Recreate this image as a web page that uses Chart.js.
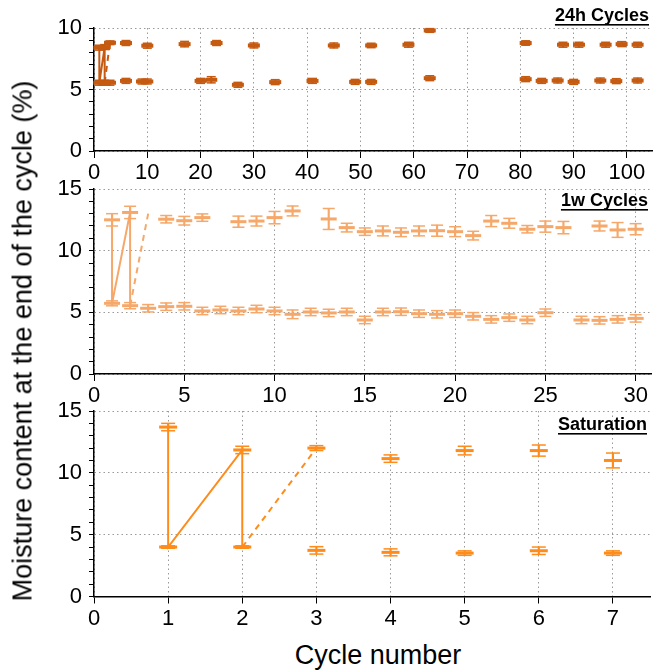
<!DOCTYPE html>
<html>
<head>
<meta charset="utf-8">
<script src="https://cdn.jsdelivr.net/npm/chart.js@4.4.0/dist/chart.umd.min.js"></script>
<style>
  body { margin: 0; background: #fff; width: 662px; height: 672px; overflow: hidden; position: relative;
         font-family: 'Liberation Sans', Arial, sans-serif; }
  canvas { position: absolute; left: 0; }
  #ytitle { position: absolute; left: 23px; top: 341px; transform: translate(-50%, -50%) rotate(-90deg);
            white-space: nowrap; font-size: 27px; color: #000; }
  #xtitle { position: absolute; left: 378px; top: 655px; transform: translate(-50%, -50%);
            white-space: nowrap; font-size: 27px; color: #000; }
</style>
</head>
<body>
<canvas id="c1" width="662" height="188" style="top:0px"></canvas>
<canvas id="c2" width="662" height="245" style="top:165px"></canvas>
<canvas id="c3" width="662" height="250" style="top:387px"></canvas>
<div id="ytitle">Moisture content at the end of the cycle (%)</div>
<div id="xtitle">Cycle number</div>
<script>
// --- 24h cycles ---
const dayWetCycle = [1, 2, 3, 6, 10, 17, 23, 30, 45, 52, 59, 63, 81, 88, 91, 96, 99, 102];
const dayWetMean  = [8.4, 8.45, 8.8, 8.78, 8.56, 8.69, 8.78, 8.58, 8.58, 8.58, 8.64, 9.8, 8.78, 8.64, 8.64, 8.64, 8.69, 8.64];
const dayWetErr   = [0.2, 0.2, 0.15, 0.2, 0.2, 0.22, 0.2, 0.2, 0.2, 0.18, 0.2, 0.15, 0.18, 0.2, 0.2, 0.2, 0.2, 0.2];
const dayDryCycle = [1, 2, 3, 6, 9, 10, 20, 22, 27, 34, 41, 49, 52, 63, 81, 84, 87, 90, 95, 98, 102];
const dayDryMean  = [5.55, 5.55, 5.55, 5.7, 5.65, 5.65, 5.7, 5.79, 5.38, 5.6, 5.7, 5.62, 5.62, 5.92, 5.84, 5.7, 5.73, 5.62, 5.73, 5.68, 5.73];
const dayDryErr   = [0.2, 0.2, 0.2, 0.2, 0.2, 0.2, 0.2, 0.25, 0.2, 0.2, 0.2, 0.2, 0.2, 0.2, 0.2, 0.2, 0.2, 0.2, 0.2, 0.2, 0.2];
const dayPathX = [1, 1, 2, 2];
const dayPathY = [8.4, 5.55, 8.45, 5.55];
const dayDashX = [2, 3];
const dayDashY = [5.55, 8.8];

// --- 1w cycles ---
const weekWetCycle = [1, 2, 4, 5, 6, 8, 9, 10, 11, 13, 14, 15, 16, 17, 18, 19, 20, 21, 22, 23, 24, 25, 26, 28, 29, 30];
const weekWetMean  = [12.5, 13.1, 12.55, 12.43, 12.68, 12.35, 12.4, 12.68, 13.22, 12.57, 11.87, 11.54, 11.6, 11.49, 11.6, 11.62, 11.54, 11.22, 12.4, 12.22, 11.74, 11.95, 11.87, 12.0, 11.68, 11.74];
const weekWetErr   = [0.5, 0.5, 0.3, 0.35, 0.3, 0.45, 0.4, 0.5, 0.4, 0.85, 0.35, 0.3, 0.4, 0.35, 0.4, 0.45, 0.4, 0.35, 0.45, 0.4, 0.3, 0.45, 0.5, 0.4, 0.6, 0.45];
const weekDryCycle = [1, 2, 3, 4, 5, 6, 7, 8, 9, 10, 11, 12, 13, 14, 15, 16, 17, 18, 19, 20, 21, 22, 23, 24, 25, 27, 28, 29, 30];
const weekDryMean  = [5.73, 5.54, 5.33, 5.46, 5.49, 5.11, 5.19, 5.11, 5.27, 5.11, 4.84, 5.03, 4.95, 5.03, 4.38, 5.03, 5.05, 4.89, 4.84, 4.89, 4.68, 4.43, 4.57, 4.38, 4.97, 4.38, 4.35, 4.43, 4.51];
const weekDryErr   = [0.2, 0.25, 0.3, 0.3, 0.3, 0.3, 0.3, 0.3, 0.3, 0.3, 0.35, 0.3, 0.3, 0.3, 0.3, 0.3, 0.3, 0.3, 0.3, 0.3, 0.3, 0.3, 0.3, 0.3, 0.3, 0.3, 0.3, 0.3, 0.3];
const weekPathX = [1, 1, 2, 2];
const weekPathY = [12.5, 5.73, 13.1, 5.54];
const weekDashX = [2, 3];
const weekDashY = [5.54, 13.0];

// --- Saturation ---
const satWetCycle = [1, 2, 3, 4, 5, 6, 7];
const satWetMean  = [13.7, 11.85, 12.0, 11.15, 11.8, 11.8, 11.0];
const satWetErr   = [0.3, 0.3, 0.2, 0.3, 0.35, 0.45, 0.6];
const satDryCycle = [1, 2, 3, 4, 5, 6, 7];
const satDryMean  = [4.0, 4.0, 3.73, 3.57, 3.51, 3.7, 3.51];
const satDryErr   = [0.1, 0.1, 0.3, 0.28, 0.18, 0.3, 0.18];
const satPathX = [1, 1, 2, 2];
const satPathY = [13.7, 4.0, 11.85, 4.0];
const satDashX = [2, 3];
const satDashY = [4.0, 12.0];

const FONT = "'Liberation Sans', Arial, sans-serif";

// underlined bold title in the top right corner of each panel
const panelTitle = {
  id: 'panelTitle',
  afterDraw(chart, args, opts) {
    const { ctx, chartArea } = chart;
    ctx.save();
    ctx.font = 'bold 18px ' + FONT;
    ctx.fillStyle = '#000';
    ctx.textAlign = 'right';
    ctx.textBaseline = 'alphabetic';
    const x = chartArea.right - 3;
    const y = chartArea.top + opts.dy;
    ctx.fillText(opts.text, x, y);
    const w = ctx.measureText(opts.text).width;
    ctx.fillRect(x - w, y + 3, w, 1.6);
    ctx.restore();
  }
};

function pts(xs, ys) {
  return xs.map((x, i) => ({ x: x, y: ys[i] }));
}

function seriesSets(cycles, means, errs, color, mark) {
  const caps = [];
  cycles.forEach((x, i) => {
    caps.push({ x: x, y: means[i] - errs[i] });
    caps.push({ x: x, y: means[i] + errs[i] });
  });
  return [
    { type: 'bar', data: cycles.map((x, i) => ({ x: x, y: [means[i] - errs[i], means[i] + errs[i]] })),
      backgroundColor: color, barThickness: 1.5, grouped: false, order: 3 },
    { type: 'scatter', data: caps, pointStyle: 'line', pointRadius: mark.cap,
      pointBorderWidth: 1.5, pointBorderColor: color, pointBackgroundColor: color, clip: false, order: 2 },
    { type: 'scatter', data: pts(cycles, means), pointStyle: 'line', pointRadius: mark.mean,
      pointBorderWidth: mark.thick, pointBorderColor: color, pointBackgroundColor: color, clip: false, order: 1 }
  ];
}

function makePanel(id, cfg) {
  const datasets = [
    { type: 'line', data: pts(cfg.pathX, cfg.pathY), borderColor: cfg.color, borderWidth: 2,
      pointRadius: 0, fill: false, tension: 0, order: 4 },
    { type: 'line', data: pts(cfg.dashX, cfg.dashY), borderColor: cfg.color, borderWidth: 2,
      borderDash: [6, 5], pointRadius: 0, fill: false, tension: 0, order: 4 }
  ].concat(
    seriesSets(cfg.wet[0], cfg.wet[1], cfg.wet[2], cfg.color, cfg.mark),
    seriesSets(cfg.dry[0], cfg.dry[1], cfg.dry[2], cfg.color, cfg.mark)
  );

  return new Chart(document.getElementById(id), {
    type: 'scatter',
    data: { datasets: datasets },
    options: {
      responsive: false,
      animation: false,
      events: [],
      layout: { padding: { left: 44, right: 1, top: cfg.padTop, bottom: 0 } },
      plugins: {
        legend: { display: false },
        tooltip: { enabled: false },
        panelTitle: { text: cfg.title, dy: cfg.titleDy }
      },
      scales: {
        x: {
          type: 'linear', min: 0, max: cfg.xMax, offset: false,
          afterBuildTicks: s => {
            s.ticks = s.ticks.filter(t => Math.abs(t.value / cfg.xStep - Math.round(t.value / cfg.xStep)) < 1e-6);
          },
          afterFit: s => { s.height = cfg.xAxisH; },
          ticks: { stepSize: cfg.xStep, includeBounds: false, autoSkip: false, maxRotation: 0, color: '#000',
                   font: { size: 22, family: FONT }, padding: 2 },
          grid: { color: '#9a9a9a', lineWidth: 1, tickColor: '#000', tickLength: 7, offset: false },
          border: { color: '#000', width: 1.5, dash: [1.5, 3] }
        },
        y: {
          type: 'linear', min: 0, max: cfg.yMax,
          afterFit: s => { s.width = 50; },
          ticks: { stepSize: 1, autoSkip: false, color: '#000', font: { size: 22, family: FONT }, padding: 7,
                   callback: v => (v % 5 === 0 ? v : '') },
          grid: { color: c => (c.tick && c.tick.value % 5 === 0 ? '#9a9a9a' : 'rgba(0,0,0,0)'),
                  lineWidth: 1, tickColor: '#000', tickLength: 5 },
          border: { color: '#000', width: 1.5, dash: [1.5, 3] }
        }
      }
    },
    plugins: [panelTitle]
  });
}

makePanel('c1', {
  color: '#C55A11', title: '24h Cycles', titleDy: -7,
  xMax: 104.7, xStep: 10, yMax: 10, padTop: 28, xAxisH: 37,
  mark: { mean: 6, cap: 4.5, thick: 4 },
  wet: [dayWetCycle, dayWetMean, dayWetErr], dry: [dayDryCycle, dayDryMean, dayDryErr],
  pathX: dayPathX, pathY: dayPathY, dashX: dayDashX, dashY: dayDashY
});

makePanel('c2', {
  color: '#F5A86A', title: '1w Cycles', titleDy: 17,
  xMax: 30.85, xStep: 5, yMax: 15, padTop: 24, xAxisH: 36,
  mark: { mean: 8, cap: 6, thick: 3 },
  wet: [weekWetCycle, weekWetMean, weekWetErr], dry: [weekDryCycle, weekDryMean, weekDryErr],
  pathX: weekPathX, pathY: weekPathY, dashX: weekDashX, dashY: weekDashY
});

makePanel('c3', {
  color: '#FF8C1A', title: 'Saturation', titleDy: 19,
  xMax: 7.5, xStep: 1, yMax: 15, padTop: 24, xAxisH: 40.5,
  mark: { mean: 9, cap: 7, thick: 3 },
  wet: [satWetCycle, satWetMean, satWetErr], dry: [satDryCycle, satDryMean, satDryErr],
  pathX: satPathX, pathY: satPathY, dashX: satDashX, dashY: satDashY
});
</script>
</body>
</html>
